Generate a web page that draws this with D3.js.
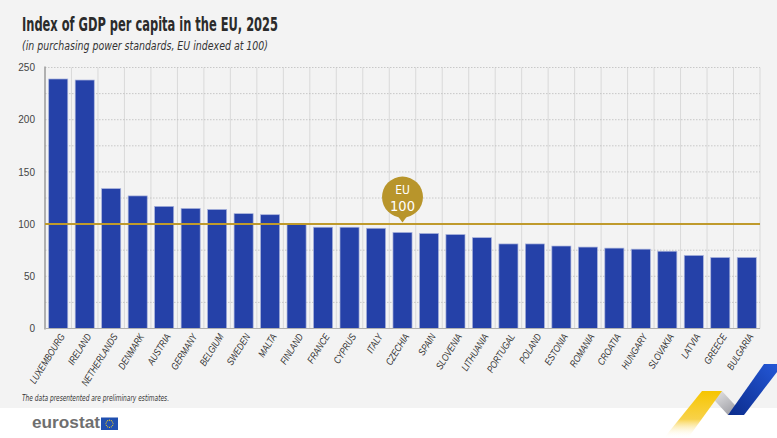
<!DOCTYPE html>
<html lang="en">
<head>
<meta charset="UTF-8">
<script src="https://d3js.org/d3.v7.min.js"></script>
<style>
    body { margin: 0; background: #fff; }
    svg { display: block; font-family: "Liberation Sans Narrow", "DejaVu Sans Condensed", "Roboto Condensed", sans-serif; }
    .ylab text { font-size: 10px; fill: #444; }
    .xlab text { font-size: 10px; fill: #333; font-style: italic; }
</style>
</head>
<body>
<div id="chart"></div>
<script>
// data
const countries = ["LUXEMBOURG", "IRELAND", "NETHERLANDS", "DENMARK", "AUSTRIA", "GERMANY", "BELGIUM", "SWEDEN", "MALTA",
    "FINLAND", "FRANCE", "CYPRUS", "ITALY", "CZECHIA", "SPAIN", "SLOVENIA", "LITHUANIA", "PORTUGAL", "POLAND",
    "ESTONIA", "ROMANIA", "CROATIA", "HUNGARY", "SLOVAKIA", "LATVIA", "GREECE", "BULGARIA"];
const gdpIndex = [239, 238, 134, 127, 117, 115, 114, 110, 109,
    100, 97, 97, 96, 92, 91, 90, 87, 81, 81,
    79, 78, 77, 76, 74, 70, 68, 68];
const yTicks = [0, 50, 100, 150, 200, 250];
const gridTicks = [0, 25, 50, 75, 100, 125, 150, 175, 200, 225, 250];
const euValue = 100;
const euLabel = ["EU", "100"];
const euAnchor = "CZECHIA";

const W = 777, H = 438;
const m = {left: 45, right: 760, top: 67.5, bottom: 328.5};

const svg = d3.select("#chart").append("svg")
    .attr("width", W)
    .attr("height", H);

// panel background
svg.append("rect").attr("width", W).attr("height", 408).attr("fill", "#f3f3f3");

svg.append("text")
    .attr("x", 22).attr("y", 31)
    .attr("font-size", 19).attr("font-weight", "bold").attr("fill", "#2b2b2b")
    .attr("textLength", 256).attr("lengthAdjust", "spacingAndGlyphs")
    .text("Index of GDP per capita in the EU, 2025");

svg.append("text")
    .attr("x", 22).attr("y", 50)
    .attr("font-size", 12.5).attr("font-style", "italic").attr("fill", "#333")
    .attr("textLength", 246).attr("lengthAdjust", "spacingAndGlyphs")
    .text("(in purchasing power standards, EU indexed at 100)");

const x = d3.scaleBand()
    .domain(countries)
    .range([m.left, m.right])
    .paddingInner(0.28)
    .paddingOuter(0.14);

const y = d3.scaleLinear()
    .domain([0, 250])
    .range([m.bottom, m.top]);

const step = x.step();
const edges = countries.map(c => x(c) - x.paddingInner() * step / 2).concat([m.right]);

// vertical grid at band edges
svg.append("g").selectAll("line")
    .data(edges.slice(1))
    .enter().append("line")
    .attr("x1", d => d).attr("x2", d => d)
    .attr("y1", m.top).attr("y2", m.bottom)
    .attr("stroke", "#d9d9d9").attr("stroke-width", 1);

// horizontal dotted grid
svg.append("g").selectAll("line")
    .data(gridTicks.slice(1))
    .enter().append("line")
    .attr("x1", m.left).attr("x2", m.right)
    .attr("y1", d => y(d)).attr("y2", d => y(d))
    .attr("stroke", "#bdbdbd").attr("stroke-width", 0.8)
    .attr("stroke-dasharray", "1.5,1.5");

// y labels
const yAxis = svg.append("g")
    .attr("class", "ylab")
    .attr("transform", `translate(${m.left},0)`)
    .call(d3.axisLeft(y).tickValues(yTicks).tickSize(0).tickPadding(10));
yAxis.select(".domain").remove();

svg.selectAll(".bar")
    .data(countries)
    .enter().append("rect")
    .attr("class", "bar")
    .attr("x", d => x(d))
    .attr("y", (d, i) => y(gdpIndex[i]))
    .attr("width", x.bandwidth())
    .attr("height", (d, i) => y(0) - y(gdpIndex[i]))
    .attr("fill", "#2541a8")
    .attr("stroke", "#a9b3dc")
    .attr("stroke-width", 0.7);

// axis lines
svg.append("line")
    .attr("x1", m.left).attr("x2", m.left).attr("y1", m.top - 1).attr("y2", m.bottom + 1)
    .attr("stroke", "#9a9a9a").attr("stroke-width", 1.5);
svg.append("line")
    .attr("x1", m.left).attr("x2", m.right).attr("y1", m.bottom).attr("y2", m.bottom)
    .attr("stroke", "#b0b0b0").attr("stroke-width", 1);

// x labels, squeezed along the text direction
const xAxis = svg.append("g")
    .attr("class", "xlab")
    .attr("transform", `translate(0,${m.bottom})`)
    .call(d3.axisBottom(x).tickSize(0));
xAxis.select(".domain").remove();
xAxis.selectAll("text")
    .attr("transform", "translate(4,6) rotate(-58) scale(0.8,1)")
    .attr("x", 0).attr("y", 0).attr("dy", "0.35em")
    .style("text-anchor", "end");

// EU reference line + bubble
svg.append("line")
    .attr("x1", m.left).attr("x2", m.right)
    .attr("y1", y(euValue)).attr("y2", y(euValue))
    .attr("stroke", "#bf9a2c").attr("stroke-width", 2);

const bx = x(euAnchor) + x.bandwidth() / 2;
const by = y(euValue) - 27;
const bubble = svg.append("g");
bubble.append("path")
    .attr("d", `M${bx - 7},${by + 16} L${bx + 7},${by + 16} L${bx},${y(euValue) - 1.5} Z`)
    .attr("fill", "#b8952b");
bubble.append("circle")
    .attr("cx", bx).attr("cy", by).attr("r", 20.5)
    .attr("fill", "#b8952b");
bubble.append("text")
    .attr("x", bx).attr("y", by - 3.5)
    .attr("text-anchor", "middle").attr("font-size", 12).attr("fill", "#fff")
    .text(euLabel[0]);
bubble.append("text")
    .attr("x", bx).attr("y", by + 13.5)
    .attr("text-anchor", "middle").attr("font-size", 14.5).attr("fill", "#fff")
    .text(euLabel[1]);

// footnote
svg.append("text")
    .attr("x", 22).attr("y", 401)
    .attr("font-size", 8).attr("font-style", "italic").attr("fill", "#333")
    .attr("textLength", 147).attr("lengthAdjust", "spacingAndGlyphs")
    .text("The data presentented are preliminary estimates.");

// eurostat logo
svg.append("text")
    .attr("x", 32).attr("y", 428)
    .attr("font-family", "'Liberation Sans', Arial, sans-serif")
    .attr("font-size", 17).attr("font-weight", "bold").attr("fill", "#6f6f6f")
    .attr("textLength", 68).attr("lengthAdjust", "spacingAndGlyphs")
    .text("eurostat");
svg.append("rect")
    .attr("x", 101).attr("y", 417.5).attr("width", 17).attr("height", 12.5)
    .attr("fill", "#1f4fb0");
svg.append("g").selectAll("circle")
    .data(d3.range(12))
    .enter().append("circle")
    .attr("cx", d => 109.5 + 3.6 * Math.cos(d * Math.PI / 6))
    .attr("cy", d => 423.75 + 3.6 * Math.sin(d * Math.PI / 6))
    .attr("r", 0.55)
    .attr("fill", "#ffd617");

// ribbon decoration
const defs = svg.append("defs");
const gy = defs.append("linearGradient").attr("id", "gy").attr("x1", 0).attr("y1", 0).attr("x2", 0).attr("y2", 1);
gy.append("stop").attr("offset", "0%").attr("stop-color", "#f6c500");
gy.append("stop").attr("offset", "60%").attr("stop-color", "#f8d24a");
gy.append("stop").attr("offset", "100%").attr("stop-color", "#ffffff").attr("stop-opacity", 0);
const gg = defs.append("linearGradient").attr("id", "gg").attr("x1", 0).attr("y1", 0).attr("x2", 1).attr("y2", 1);
gg.append("stop").attr("offset", "0%").attr("stop-color", "#efefef");
gg.append("stop").attr("offset", "100%").attr("stop-color", "#8e8e96");
const gb = defs.append("linearGradient").attr("id", "gb").attr("x1", 1).attr("y1", 0).attr("x2", 0).attr("y2", 1);
gb.append("stop").attr("offset", "0%").attr("stop-color", "#2457d6");
gb.append("stop").attr("offset", "100%").attr("stop-color", "#0b2c8c");

svg.append("polygon")
    .attr("points", "706,391 722,391 744,415 728,415")
    .attr("fill", "url(#gg)");
svg.append("polygon")
    .attr("points", "728,415 744,415 777,372 777,364 764,364")
    .attr("fill", "url(#gb)");
svg.append("polygon")
    .attr("points", "664,438 688,438 722,391 702,391")
    .attr("fill", "url(#gy)");
</script>
</body>
</html>
